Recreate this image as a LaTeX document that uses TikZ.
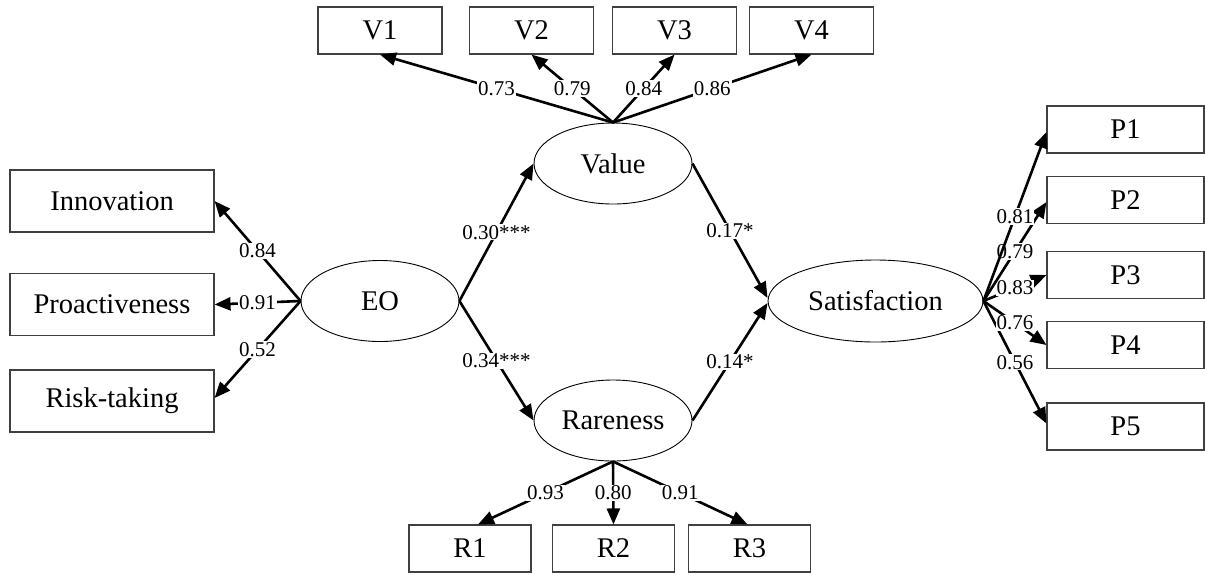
\documentclass[tikz,border=0pt]{standalone}
\usepackage{fontspec}
\setmainfont{Liberation Serif}
\usetikzlibrary{arrows.meta,calc,shapes.geometric}
\begin{document}
\begin{tikzpicture}[x=1pt,y=-1pt,
  obs/.style={draw=black!75,line width=1.1pt,inner sep=0pt,minimum height=47pt,
    font=\fontsize{28.5}{30}\selectfont},
  lat/.style={draw=black,line width=0.9pt,ellipse,inner sep=0pt,
    minimum width=158pt,minimum height=81pt,font=\fontsize{28.5}{30}\selectfont},
  link/.style={line width=2.6pt,-{Triangle[length=16pt,width=13pt]}},
  coef/.style={fill=white,inner sep=1pt,font=\fontsize{21}{22}\selectfont}]
\useasboundingbox (0,0) rectangle (1205,574);

% latent constructs
\node[lat] (eo)  at (380,301)   {EO};
\node[lat] (val) at (613,163.5) {Value};
\node[lat] (rar) at (613,420.5) {Rareness};
\node[lat,minimum width=215pt,minimum height=82pt] (sat) at (875.5,301) {Satisfaction};

% indicators of Value
\node[obs,minimum width=124pt] (v1) at (380,30.5)   {V1};
\node[obs,minimum width=124pt] (v2) at (531.5,30.5) {V2};
\node[obs,minimum width=124pt] (v3) at (674.5,30.5) {V3};
\node[obs,minimum width=124pt] (v4) at (811.5,30.5) {V4};

% indicators of EO
\node[obs,minimum width=204pt,minimum height=62pt] (inn) at (112,201)   {Innovation};
\node[obs,minimum width=204pt,minimum height=62pt] (pro) at (112,304.5) {Proactiveness};
\node[obs,minimum width=204pt,minimum height=62pt] (ris) at (112,401)   {Risk-taking};

% indicators of Rareness
\node[obs,minimum width=122pt] (r1) at (470,548.5)   {R1};
\node[obs,minimum width=122pt] (r2) at (613.5,548.5) {R2};
\node[obs,minimum width=122pt] (r3) at (749.5,548.5) {R3};

% indicators of Satisfaction
\node[obs,minimum width=157pt] (p1) at (1125.5,129.5) {P1};
\node[obs,minimum width=157pt] (p2) at (1125.5,200)   {P2};
\node[obs,minimum width=157pt] (p3) at (1125.5,275)   {P3};
\node[obs,minimum width=157pt] (p4) at (1125.5,345)   {P4};
\node[obs,minimum width=157pt] (p5) at (1125.5,426.5) {P5};

% loadings of Value
\draw[link] (val.north) -- node[coef] {0.73} (v1.south);
\draw[link] (val.north) -- node[coef] {0.79} (v2.south);
\draw[link] (val.north) -- node[coef] {0.84} (v3.south);
\draw[link] (val.north) -- node[coef] {0.86} (v4.south);

% loadings of EO
\draw[link] (eo.west) -- node[coef] {0.84} (inn.east);
\draw[link] (eo.west) -- node[coef] {0.91} (pro.east);
\draw[link] (eo.west) -- node[coef] {0.52} ($(ris.east)+(0,-3)$);

% loadings of Rareness
\draw[link] (rar.south) -- node[coef] {0.93} ($(r1.north)+(8,0)$);
\draw[link] (rar.south) -- node[coef] {0.80} (r2.north);
\draw[link] (rar.south) -- node[coef] {0.91} ($(r3.north)+(-2,0)$);

% structural paths
\draw[link] (eo.east) -- node[coef] {0.30***} (val.west);
\draw[link] (eo.east) -- node[coef] {0.34***} (rar.west);
\draw[link] (val.east) -- node[coef] {0.17*} ($(sat.west)+(0,-3)$);
\draw[link] (rar.east) -- node[coef] {0.14*} ($(sat.west)+(0,2)$);

% loadings of Satisfaction
\draw[link] (sat.east) -- node[coef] {0.56} ($(p5.west)+(0,-3)$);
\draw[link] (sat.east) -- node[coef] {0.76} (p4.west);
\draw[link] (sat.east) -- node[coef] {0.83} (p3.west);
\draw[link] (sat.east) -- node[coef] {0.79} ($(p2.west)+(0,2)$);
\draw[link] (sat.east) -- node[coef] {0.81} ($(p1.west)+(0,2.5)$);
\end{tikzpicture}
\end{document}
